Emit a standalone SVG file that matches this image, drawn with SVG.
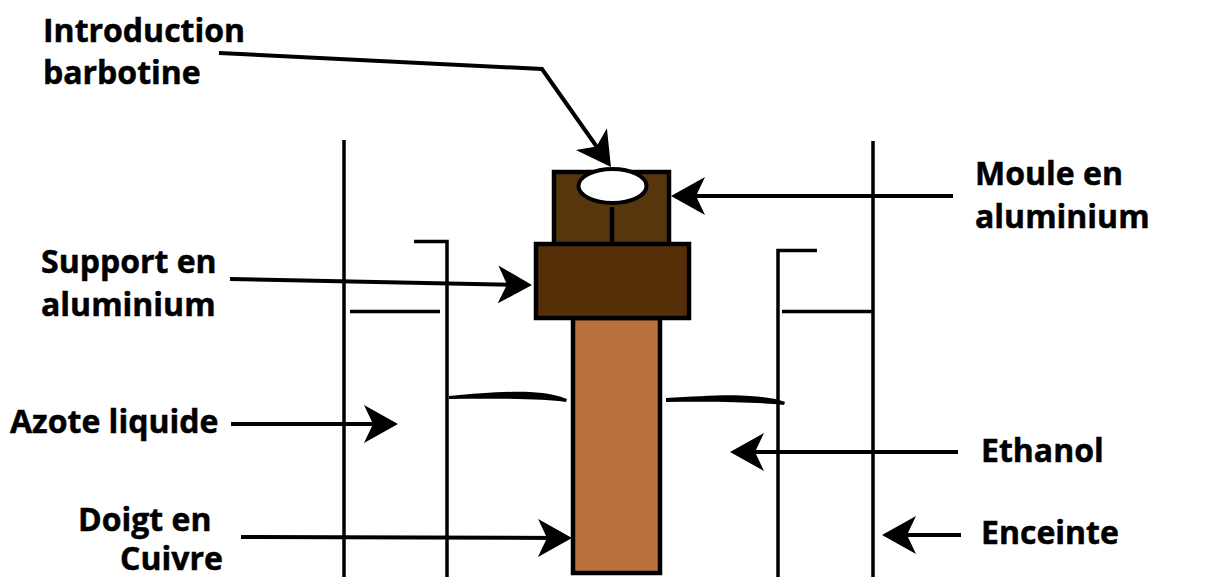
<svg xmlns="http://www.w3.org/2000/svg" width="1209" height="577" viewBox="0 0 1209 577">
<style>
.t{font-family:"Open Sans","Noto Sans","Liberation Sans",sans-serif;font-weight:700;font-size:32px;fill:#000;stroke:#000;stroke-width:.5}
.l{fill:none;stroke:#000;stroke-width:3.5}
.c{fill:none;stroke:#000;stroke-width:4}
.b{stroke:#000;stroke-width:4.500}
</style>
<defs>
<marker id="a" markerUnits="userSpaceOnUse" markerWidth="38" markerHeight="40" refX="28" refY="19" orient="auto">
<path d="M0 0L34 19L0 38L9 19Z" fill="#000"/>
</marker>
</defs>
<rect width="1209" height="577" fill="#fff"/>
<g id="enceinte">
<path class="l" d="M344 140V577M873 141V577"/>
<path class="l" d="M350 311.500H440M782 311.500H873"/>
</g>
<g id="ethanol-vessel">
<path class="l" d="M414 241.500H447V577"/>
<path class="l" d="M817 250.500H778V577"/>
</g>
<g id="liquid-levels">
<path d="M449 396C480 393 510 391 530 392C548 393 560 396 567 399L566 402C545 399 495 398 449 399Z" fill="#000"/>
<path d="M666 398C700 396 730 394 750 396C765 397 778 399 785 402L784 405C760 402 710 401 666 402Z" fill="#000"/>
</g>
<g id="doigt">
<rect class="b" x="573" y="318" width="87" height="255" fill="#b8713d"/>
</g>
<g id="moule">
<rect class="b" x="554" y="172" width="115" height="73" fill="#57360d"/>
<path class="b" d="M612 207V245" fill="none"/>
<ellipse cx="612.500" cy="186" rx="34" ry="17" fill="#fff" stroke="#000" stroke-width="4"/>
</g>
<g id="support">
<rect class="b" x="536" y="244" width="153" height="74" fill="#552f08"/>
</g>
<g id="connectors">
<path class="c" marker-end="url(#a)" d="M219 53L542 69L607.500 162"/>
<path class="c" marker-end="url(#a)" d="M953 196H677"/>
<path class="c" marker-end="url(#a)" d="M230 279L526 285"/>
<path class="c" marker-end="url(#a)" d="M231 424H392"/>
<path class="c" marker-end="url(#a)" d="M958 452H736"/>
<path class="c" marker-end="url(#a)" d="M241 537L566 538"/>
<path class="c" marker-end="url(#a)" d="M961 535H888"/>
</g>
<g id="labels">
<text class="t" x="43" y="42">Introduction</text>
<text class="t" x="43" y="84">barbotine</text>
<text class="t" x="975" y="185">Moule en</text>
<text class="t" x="975" y="228">aluminium</text>
<text class="t" x="41" y="273">Support en</text>
<text class="t" x="41" y="316">aluminium</text>
<text class="t" x="10" y="433">Azote liquide</text>
<text class="t" x="981" y="462">Ethanol</text>
<text class="t" x="78" y="531">Doigt en</text>
<text class="t" x="120" y="570">Cuivre</text>
<text class="t" x="981" y="544">Enceinte</text>
</g>
</svg>
